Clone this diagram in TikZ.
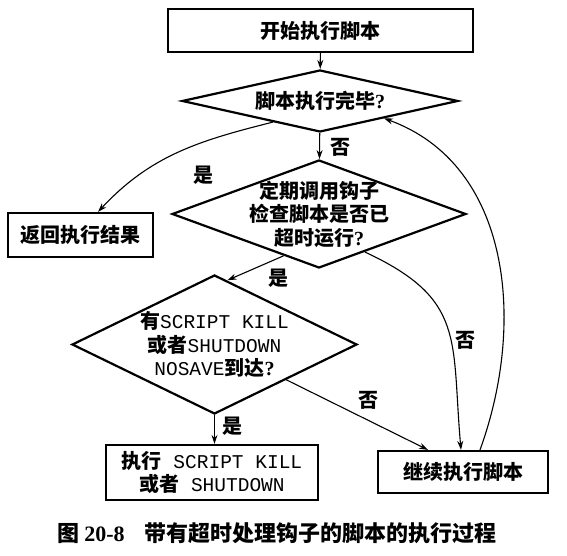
\documentclass[tikz,border=0pt]{standalone}
\usepackage{fontspec}
\setmainfont{Liberation Serif}
\setmonofont{Liberation Mono}[Scale=0.975]
\newfontfamily\cjk{Noto Sans CJK SC}
\usetikzlibrary{calc, shapes.geometric, arrows.meta}

\newcommand{\kw}[1]{{\ttfamily\mdseries #1}}
\newcommand{\qm}{{\rmfamily\bfseries ?}}

\begin{document}
\begin{tikzpicture}[x=1pt, y=1pt,
        every node/.style={font=\cjk\bfseries\fontsize{20}{23.5}\selectfont},
        box/.style={draw, line width=2.2pt, inner sep=0pt, align=center},
        decision/.style={diamond, draw, line width=2.2pt, inner sep=-8pt, align=center},
        flow/.style={-{Stealth[length=9pt, width=6pt]}, line width=1.1pt}]

        \useasboundingbox (0, 0) rectangle (567, 556);

        \node[box, minimum width=305, minimum height=43] (start) at (320.5, 525.5) {开始执行脚本};
        \node[decision, minimum width=276, minimum height=62, shape aspect=4.45] (done) at (320, 455) {脚本执行完毕\qm};
        \node[decision, minimum width=294, minimum height=108, shape aspect=2.72] (hook) at (319, 342) {定期调用钩子\\检查脚本是否已\\超时运行\qm};
        \node[box, minimum width=145, minimum height=44] (result) at (80.5, 321) {返回执行结果};
        \node[decision, minimum width=285, minimum height=139, shape aspect=2.05] (kill) at (214.5, 211.5) {有\kw{SCRIPT KILL}\\或者\kw{SHUTDOWN}\\\kw{NOSAVE}到达\qm};
        \node[box, minimum width=212, minimum height=55] (exec) at (212, 83.5) {执行\kw{\ SCRIPT KILL}\\或者\kw{\ SHUTDOWN}};
        \node[box, minimum width=170, minimum height=42] (goon) at (463, 84) {继续执行脚本};

        \draw[flow] (start) -- (done);
        \draw[flow] (done) -- (hook);
        \node (no1) at (340, 409) {否};

        \draw[flow] ($(done.south)!0.34!(done.west)$) to[out=194, in=47] ([xshift=17.5pt]result.north);
        \node (yes1) at (203, 381) {是};

        \draw[flow] ($(hook.south)!0.24!(hook.west)$) -- ($(kill.north)!0.09!(kill.east)$);
        \node (yes2) at (278, 278) {是};

        \draw[flow] ($(hook.south)!0.31!(hook.east)$) to[out=335, in=95, looseness=1.3] ([xshift=-2pt]goon.north);
        \node (no2) at (465, 216) {否};

        \draw[flow] ([xshift=17pt]goon.north) to[out=70, in=-20] ($(done.south)!0.46!(done.east)$);

        \draw[flow] (kill.south) -- (kill.south |- exec.north);
        \node (yes3) at (232, 130) {是};

        \draw[flow] (kill.south east) -- ([xshift=-35pt]goon.north);
        \node (no3) at (368, 156) {否};

        \node[font=\cjk\bfseries\fontsize{22}{24}\selectfont] (caption) at (277, 23)
            {图\ {\rmfamily\bfseries 20-8}\hspace{20pt}带有超时处理钩子的脚本的执行过程};

    \end{tikzpicture}
\end{document}
